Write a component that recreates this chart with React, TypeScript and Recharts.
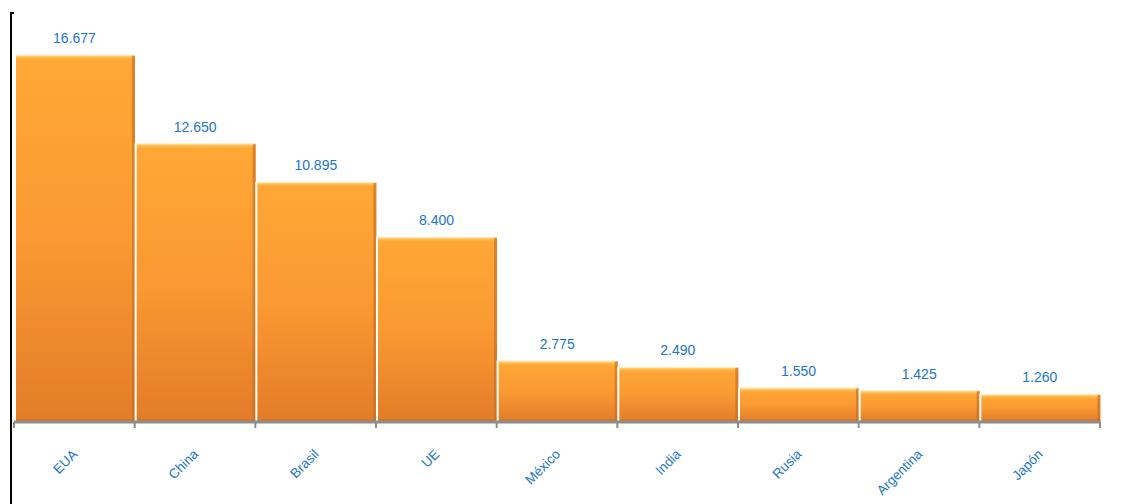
import { BarChart, Bar, XAxis, YAxis, LabelList } from "recharts";

const categories = ["EUA", "China", "Brasil", "UE", "México", "India", "Rusia", "Argentina", "Japón"];
const values = [16677, 12650, 10895, 8400, 2775, 2490, 1550, 1425, 1260];

const data = categories.map((name, i) => ({ name, value: values[i] }));

const BLUE = "#1B76C9";
const AXIS_GREY = "#8C8C8C";

const fmt = (v: number) => String(v).replace(/\B(?=(\d{3})+(?!\d))/g, ".");

function BevelBar(props: any) {
  const { x, y, width, height } = props;
  if (!height || height <= 0) return null;
  return (
    <g>
      <rect x={x} y={y} width={width} height={height} fill="url(#barFill)" />
      <rect x={x} y={y} width={width} height={Math.min(5, height)} fill="url(#barTop)" />
      <rect x={x + width - 3} y={y} width={3} height={height} fill="#c4691f" opacity={0.6} />
      <rect x={x} y={y + height - 3} width={width} height={3} fill="#c96e22" opacity={0.4} />
      <line x1={x + 1} y1={y} x2={x + 1} y2={y + height} stroke="#fff" strokeWidth={2} />
      <line x1={x} y1={y} x2={x + width} y2={y} stroke="#fff3d8" strokeWidth={1} />
    </g>
  );
}

function ValueLabel(props: any) {
  const { x, y, width, value } = props;
  return (
    <text
      x={x + width / 2}
      y={y - 12}
      textAnchor="middle"
      fill={BLUE}
      fontSize={14}
      fontFamily="Liberation Sans, Arial, sans-serif"
    >
      {fmt(value)}
    </text>
  );
}

// category label plus tick marks on the band edges
function CatTick(props: any) {
  const { x, y, payload, index, visibleTicksCount, width } = props;
  const band = width && visibleTicksCount ? width / visibleTicksCount : 2 * (payload.offset || 0);
  const left = x - band / 2;
  const tx = x + 4;
  const ty = y + 25;
  const isLast = index === visibleTicksCount - 1;
  const axisY = y - 8;
  return (
    <g>
      <line x1={left} y1={axisY} x2={left} y2={axisY + 6} stroke={AXIS_GREY} strokeWidth={2} />
      {isLast && (
        <line x1={left + band} y1={axisY} x2={left + band} y2={axisY + 6} stroke={AXIS_GREY} strokeWidth={2} />
      )}
      <text
        x={tx}
        y={ty}
        textAnchor="end"
        fill={BLUE}
        fontSize={13.5}
        fontFamily="Liberation Sans, Arial, sans-serif"
        transform={`rotate(-45, ${tx}, ${ty})`}
      >
        {payload.value}
      </text>
    </g>
  );
}

export default function App() {
  return (
    <div style={{ position: "absolute", left: 0, top: 0, width: 1147, height: 504, background: "#fff" }}>
      <div
        style={{
          position: "absolute",
          left: 10,
          top: 12,
          width: 2,
          height: 492,
          borderLeft: "2px solid #000",
          borderTop: "2px solid #000",
        }}
      />
      <BarChart
        width={1147}
        height={504}
        data={data}
        margin={{ top: 26, right: 47, left: 14, bottom: 0 }}
        barCategoryGap={0}
      >
        <defs>
          <linearGradient id="barFill" x1="0" y1="0" x2="0" y2="1">
            <stop offset="0" stopColor="#FFA836" />
            <stop offset="0.5" stopColor="#FB9932" />
            <stop offset="1" stopColor="#E27C29" />
          </linearGradient>
          <linearGradient id="barTop" x1="0" y1="0" x2="0" y2="1">
            <stop offset="0" stopColor="#FFE08A" />
            <stop offset="1" stopColor="#FFB040" stopOpacity={0} />
          </linearGradient>
        </defs>
        <XAxis
          dataKey="name"
          height={82}
          axisLine={{ stroke: AXIS_GREY, strokeWidth: 3 }}
          tickLine={false}
          tickSize={0}
          tickMargin={8}
          interval={0}
          tick={<CatTick />}
        />
        <YAxis hide domain={[0, 18000]} />
        <Bar dataKey="value" shape={<BevelBar />} isAnimationActive={false}>
          <LabelList dataKey="value" content={<ValueLabel />} />
        </Bar>
      </BarChart>
    </div>
  );
}
